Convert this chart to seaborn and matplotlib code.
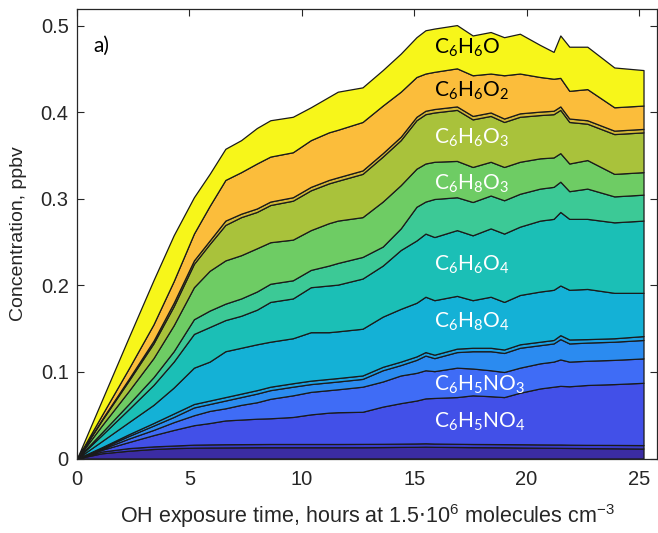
import numpy as np
import matplotlib
matplotlib.use("Agg")
import matplotlib.pyplot as plt
import seaborn as sns

# ---- data (cumulative upper edges of each stacked series, ppbv) ----
hours = [0, 1.1, 2.3, 3.4, 4.3, 5.2, 5.9, 6.6, 7.3, 8.0, 8.6, 9.6, 10.4, 11.2, 11.6, 12.7,
         13.6, 14.4, 15.1, 15.5, 15.9, 16.9, 17.6, 18.4, 19.0, 19.7, 20.6, 21.2, 21.5,
         21.9, 22.7, 23.9, 25.2]

top_minor1 = [0, 0.006, 0.009, 0.011, 0.012, 0.0125, 0.0127, 0.0128, 0.0129, 0.013, 0.013,
              0.013, 0.013, 0.013, 0.013, 0.013, 0.0132, 0.0134, 0.0135, 0.0137, 0.0135,
              0.0133, 0.0131, 0.013, 0.0129, 0.0127, 0.0125, 0.0124, 0.0123, 0.0122, 0.012,
              0.0118, 0.0115]
top_minor2 = [0, 0.008, 0.012, 0.014, 0.015, 0.016, 0.0163, 0.0165, 0.0166, 0.0167, 0.0168,
              0.0168, 0.0168, 0.0168, 0.0168, 0.0169, 0.017, 0.0172, 0.0174, 0.0176, 0.0173,
              0.017, 0.0168, 0.0167, 0.0166, 0.0165, 0.0163, 0.0162, 0.0162, 0.016, 0.0158,
              0.0157, 0.0155]
top_C6H5NO4 = [0, 0.010, 0.019, 0.027, 0.033, 0.0385, 0.041, 0.044, 0.045, 0.046, 0.0465,
               0.048, 0.051, 0.053, 0.0535, 0.054, 0.060, 0.064, 0.067, 0.0695, 0.070, 0.071,
               0.073, 0.072, 0.071, 0.076, 0.081, 0.083, 0.084, 0.0835, 0.085, 0.086, 0.0875]
top_C6H5NO3 = [0, 0.011, 0.023, 0.033, 0.042, 0.050, 0.055, 0.058, 0.062, 0.065, 0.069,
               0.073, 0.077, 0.079, 0.080, 0.083, 0.089, 0.096, 0.099, 0.102, 0.101, 0.105,
               0.104, 0.102, 0.100, 0.105, 0.110, 0.112, 0.1145, 0.112, 0.113, 0.114, 0.1157]
top_minor3 = [0, 0.012, 0.026, 0.038, 0.048, 0.059, 0.063, 0.067, 0.071, 0.075, 0.079,
              0.083, 0.086, 0.088, 0.089, 0.092, 0.102, 0.108, 0.114, 0.119, 0.116, 0.123,
              0.124, 0.124, 0.122, 0.128, 0.131, 0.133, 0.138, 0.133, 0.134, 0.135, 0.137]
top_minor4 = [0, 0.013, 0.028, 0.041, 0.052, 0.063, 0.067, 0.071, 0.075, 0.079, 0.083,
              0.087, 0.090, 0.092, 0.093, 0.096, 0.106, 0.112, 0.118, 0.123, 0.120, 0.127,
              0.128, 0.128, 0.126, 0.132, 0.135, 0.137, 0.1426, 0.1376, 0.138, 0.139, 0.1415]
top_C6H8O4 = [0, 0.020, 0.042, 0.062, 0.082, 0.105, 0.112, 0.124, 0.128, 0.132, 0.135,
              0.139, 0.146, 0.146, 0.147, 0.150, 0.164, 0.173, 0.180, 0.187, 0.183, 0.188,
              0.183, 0.187, 0.181, 0.189, 0.193, 0.195, 0.200, 0.195, 0.196, 0.1915, 0.1915]
top_C6H6O4 = [0, 0.027, 0.057, 0.085, 0.112, 0.144, 0.152, 0.160, 0.165, 0.172, 0.181,
              0.185, 0.198, 0.200, 0.201, 0.208, 0.223, 0.241, 0.252, 0.260, 0.256, 0.264,
              0.258, 0.266, 0.260, 0.268, 0.275, 0.277, 0.285, 0.277, 0.277, 0.273, 0.275]
top_minor5 = [0, 0.030, 0.063, 0.094, 0.124, 0.161, 0.171, 0.179, 0.185, 0.193, 0.202,
              0.206, 0.218, 0.223, 0.226, 0.233, 0.245, 0.266, 0.291, 0.297, 0.300, 0.302,
              0.2965, 0.304, 0.2985, 0.306, 0.312, 0.314, 0.320, 0.309, 0.312, 0.303, 0.305]
top_C6H8O3 = [0, 0.038, 0.078, 0.116, 0.154, 0.198, 0.217, 0.229, 0.235, 0.243, 0.250,
              0.253, 0.264, 0.272, 0.275, 0.279, 0.297, 0.316, 0.335, 0.341, 0.343, 0.344,
              0.337, 0.343, 0.337, 0.343, 0.347, 0.348, 0.353, 0.341, 0.345, 0.329, 0.331]
top_C6H6O3 = [0, 0.044, 0.090, 0.133, 0.176, 0.225, 0.248, 0.270, 0.279, 0.285, 0.293,
              0.298, 0.310, 0.318, 0.321, 0.329, 0.349, 0.368, 0.391, 0.398, 0.400, 0.403,
              0.392, 0.396, 0.389, 0.395, 0.397, 0.398, 0.403, 0.389, 0.387, 0.375, 0.377]
top_minor6 = [0, 0.045, 0.092, 0.136, 0.180, 0.229, 0.252, 0.275, 0.283, 0.289, 0.297,
              0.302, 0.314, 0.322, 0.325, 0.333, 0.353, 0.372, 0.395, 0.402, 0.404, 0.407,
              0.396, 0.400, 0.393, 0.399, 0.401, 0.402, 0.407, 0.393, 0.391, 0.379, 0.381]
top_C6H6O2 = [0, 0.050, 0.104, 0.155, 0.205, 0.260, 0.292, 0.322, 0.331, 0.341, 0.349,
              0.354, 0.368, 0.377, 0.380, 0.389, 0.408, 0.424, 0.441, 0.445, 0.447, 0.451,
              0.443, 0.445, 0.443, 0.445, 0.441, 0.439, 0.440, 0.425, 0.427, 0.406, 0.408]
top_C6H6O = [0, 0.067, 0.140, 0.206, 0.258, 0.302, 0.329, 0.358, 0.368, 0.382, 0.391,
             0.395, 0.406, 0.418, 0.424, 0.429, 0.449, 0.468, 0.487, 0.495, 0.497, 0.501,
             0.489, 0.493, 0.487, 0.491, 0.478, 0.470, 0.489, 0.476, 0.476, 0.452, 0.449]

series_colors = ["#3b2ca3", "#3a3ccb", "#4250e8", "#3f6cf6", "#2b8bf0", "#1ca0e2",
                 "#14b1d6", "#1bbfb6", "#3cc996", "#6ecc64", "#a9c23b", "#d3b838",
                 "#fbbd3b", "#f7f61a"]

label_texts = [r"C$_\mathregular{6}$H$_\mathregular{6}$O",
               r"C$_\mathregular{6}$H$_\mathregular{6}$O$_\mathregular{2}$",
               r"C$_\mathregular{6}$H$_\mathregular{6}$O$_\mathregular{3}$",
               r"C$_\mathregular{6}$H$_\mathregular{8}$O$_\mathregular{3}$",
               r"C$_\mathregular{6}$H$_\mathregular{6}$O$_\mathregular{4}$",
               r"C$_\mathregular{6}$H$_\mathregular{8}$O$_\mathregular{4}$",
               r"C$_\mathregular{6}$H$_\mathregular{5}$NO$_\mathregular{3}$",
               r"C$_\mathregular{6}$H$_\mathregular{5}$NO$_\mathregular{4}$"]
label_y = [0.475, 0.4255, 0.371, 0.318, 0.2245, 0.1576, 0.085, 0.042]
label_colors = ["black", "black", "white", "white", "white", "white", "white", "white"]

# ---- build layers ----
tops = np.array([top_minor1, top_minor2, top_C6H5NO4, top_C6H5NO3, top_minor3, top_minor4,
                 top_C6H8O4, top_C6H6O4, top_minor5, top_C6H8O3, top_C6H6O3, top_minor6,
                 top_C6H6O2, top_C6H6O])
layers = np.clip(np.diff(np.vstack([np.zeros(len(hours)), tops]), axis=0), 0, None)

sns.set_theme(style="ticks")
plt.rcParams["font.family"] = ["Liberation Sans", "DejaVu Sans"]

fig = plt.figure(figsize=(6.58, 5.33), dpi=100)
ax = fig.add_axes([77 / 658, 74.5 / 533, 580 / 658, 449.5 / 533])

ax.stackplot(hours, layers, colors=series_colors, edgecolor="#1a1a1a", linewidth=0.9)

ax.set_xlim(0, 25.8)
ax.set_ylim(0, 0.5196)
ax.set_xticks([0, 5, 10, 15, 20, 25])
ax.set_yticks([0, 0.1, 0.2, 0.3, 0.4, 0.5])
ax.set_yticklabels(["0", "0.1", "0.2", "0.3", "0.4", "0.5"])

dark = "#262626"
ax.tick_params(direction="in", length=5, width=0.8, top=True, right=True,
               labelsize=14.5, colors=dark)
ax.tick_params(axis="x", pad=8)
ax.tick_params(axis="y", pad=6)
for s in ax.spines.values():
    s.set_visible(True)
    s.set_color(dark)
    s.set_linewidth(0.9)

ax.set_ylabel("Concentration, ppbv", fontsize=14, color=dark)
ax.yaxis.set_label_coords(-0.087, 0.5)
ax.set_xlabel(r"OH exposure time, hours at 1.5$\cdot$10$^\mathregular{6}$ molecules cm$^\mathregular{-3}$",
              fontsize=15.5, color=dark, labelpad=10)

for txt, yv, col in zip(label_texts, label_y, label_colors):
    ax.text(15.9, yv, txt, fontsize=15, color=col, family=["Lato", "DejaVu Sans"],
            ha="left", va="center")

ax.text(0.75, 0.477, "a)", fontsize=15, color="black", family=["Lato", "DejaVu Sans"],
        ha="left", va="center")

fig.savefig("out.png", dpi=100)
